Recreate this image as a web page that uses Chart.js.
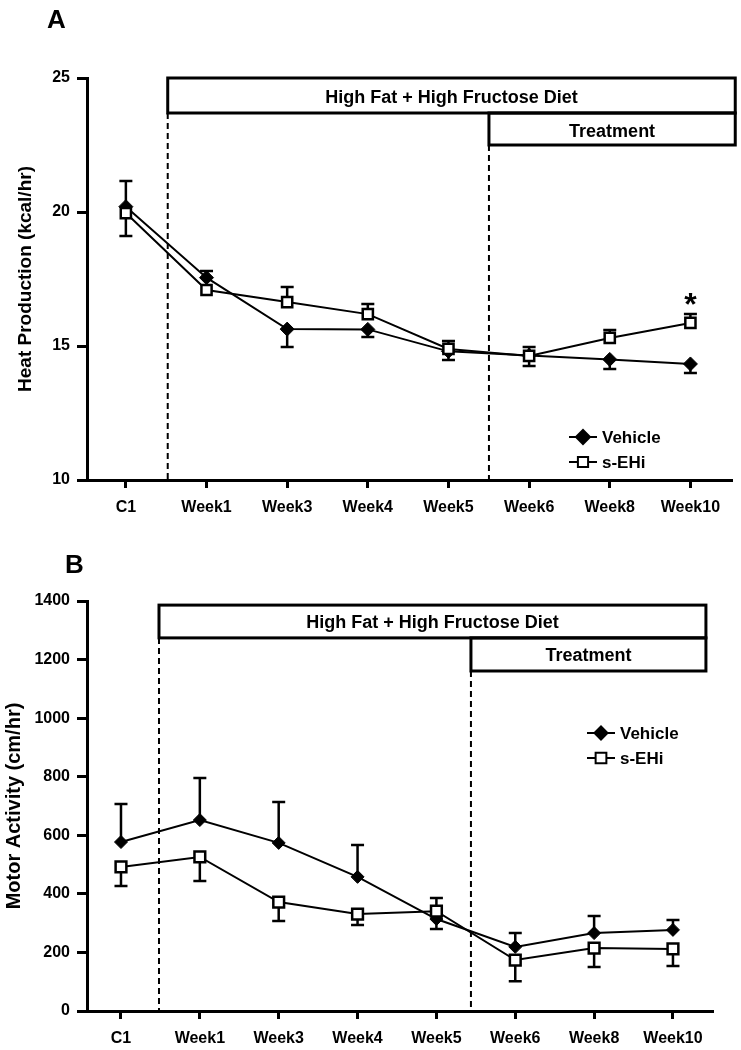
<!DOCTYPE html>
<html>
<head>
<meta charset="utf-8">
<script src="https://cdn.jsdelivr.net/npm/chart.js@4.4.1/dist/chart.umd.min.js"></script>
<style>
  body { margin: 0; background: #fff; width: 741px; height: 1050px; overflow: hidden; }
  canvas { position: absolute; left: 0; }
  #chartA { top: 0; }
  #chartB { top: 530px; }
</style>
</head>
<body>
<canvas id="chartA" width="741" height="530"></canvas>
<canvas id="chartB" width="741" height="520"></canvas>
<script>
const timepoints = ['C1', 'Week1', 'Week3', 'Week4', 'Week5', 'Week6', 'Week8', 'Week10'];

// panel A - heat production (kcal/hr)
const heatVehicle   = [20.2, 17.55, 15.63, 15.62, 14.8, 14.65, 14.5, 14.33];
const heatVehicleHi = [21.16, 17.8, null, null, null, null, null, null];
const heatVehicleLo = [null, null, 14.96, 15.34, 14.48, 14.25, 14.14, 13.99];
const heatSEHi      = [19.96, 17.09, 16.64, 16.19, 14.89, 14.63, 15.3, 15.86];
const heatSEHiHi    = [null, null, 17.2, 16.57, 15.19, 14.96, 15.6, 16.19];
const heatSEHiLo    = [19.1, null, null, null, null, null, null, null];
const heatTicks     = [10, 15, 20, 25];

// panel B - motor activity (cm/hr)
const motorVehicle   = [577, 652, 574, 458, 314, 219, 266, 277];
const motorVehicleHi = [707, 796, 714, 567, null, 266, 324, 311];
const motorVehicleLo = [null, null, null, null, 280, null, null, null];
const motorSEHi      = [492, 526, 372, 331, 341, 174, 215, 212];
const motorSEHiHi    = [null, null, null, null, 386, null, null, null];
const motorSEHiLo    = [427, 444, 307, 294, null, 102, 150, 154];
const motorTicks     = [0, 200, 400, 600, 800, 1000, 1200, 1400];

const FONT = '"Liberation Sans", Arial, sans-serif';
Chart.defaults.font.family = FONT;
Chart.defaults.color = '#000';

const errorBars = {
  id: 'errorBars',
  beforeDatasetsDraw(chart) {
    const ctx = chart.ctx, ys = chart.scales.y;
    ctx.save();
    ctx.strokeStyle = '#000';
    ctx.lineWidth = 2.5;
    chart.data.datasets.forEach((ds, di) => {
      const meta = chart.getDatasetMeta(di);
      meta.data.forEach((pt, i) => {
        [ds.errHi[i], ds.errLo[i]].forEach(v => {
          if (v == null) return;
          const py = ys.getPixelForValue(v);
          ctx.beginPath();
          ctx.moveTo(pt.x, pt.y);
          ctx.lineTo(pt.x, py);
          ctx.moveTo(pt.x - 6.5, py);
          ctx.lineTo(pt.x + 6.5, py);
          ctx.stroke();
        });
      });
    });
    ctx.restore();
  }
};

const panelDeco = {
  id: 'panelDeco',
  beforeDatasetsDraw(chart, args, o) {
    const ctx = chart.ctx, xs = chart.scales.x, ys = chart.scales.y;
    ctx.save();
    ctx.strokeStyle = '#000';
    ctx.lineWidth = 2;
    ctx.setLineDash([6, 4]);
    o.dashes.forEach(d => {
      const px = xs.getPixelForValue(d.x);
      ctx.beginPath();
      ctx.moveTo(px, ys.getPixelForValue(d.from));
      ctx.lineTo(px, chart.chartArea.bottom);
      ctx.stroke();
    });
    ctx.restore();
  },
  afterDraw(chart, args, o) {
    const ctx = chart.ctx, xs = chart.scales.x, ys = chart.scales.y;
    ctx.save();
    ctx.fillStyle = '#000';
    ctx.strokeStyle = '#000';
    // panel letter
    ctx.font = 'bold 26px ' + FONT;
    ctx.textAlign = 'left';
    ctx.textBaseline = 'alphabetic';
    ctx.fillText(o.letter, o.letterX, o.letterY);
    // diet / treatment boxes
    ctx.lineWidth = 3;
    ctx.font = 'bold 18px ' + FONT;
    ctx.textAlign = 'center';
    ctx.textBaseline = 'middle';
    o.boxes.forEach(b => {
      const l = xs.getPixelForValue(b.x0), r = xs.getPixelForValue(b.x1);
      const t = ys.getPixelForValue(b.y0), bt = ys.getPixelForValue(b.y1);
      ctx.strokeRect(l, t, r - l, bt - t);
      ctx.fillText(b.text, (l + r) / 2, (t + bt) / 2 + o.textDy);
    });
    // legend
    ctx.font = 'bold 17px ' + FONT;
    ctx.textAlign = 'left';
    chart.data.datasets.slice().reverse().forEach((ds, k) => {
      const ly = o.legendY + k * 25;
      ctx.lineWidth = 2;
      ctx.beginPath();
      ctx.moveTo(o.legendX, ly);
      ctx.lineTo(o.legendX + 28, ly);
      ctx.stroke();
      ctx.fillStyle = ds.pointBackgroundColor;
      Chart.helpers.drawPoint(ctx, {
        pointStyle: ds.pointStyle, radius: ds.pointRadius,
        borderWidth: ds.pointBorderWidth, rotation: 0
      }, o.legendX + 14, ly);
      ctx.fillStyle = '#000';
      ctx.fillText(ds.label, o.legendX + 33, ly + 1);
    });
    // significance mark
    if (o.star) {
      ctx.font = 'bold 32px ' + FONT;
      ctx.textAlign = 'center';
      ctx.textBaseline = 'alphabetic';
      ctx.fillText('*', xs.getPixelForValue(o.star.x), ys.getPixelForValue(o.star.y) + 1);
    }
    ctx.restore();
  }
};

function makeChart(id, cfg) {
  return new Chart(document.getElementById(id), {
    type: 'line',
    data: {
      datasets: [
        {
          label: 's-EHi', order: 0,
          data: cfg.sehi.map((v, i) => ({ x: i, y: v })),
          errHi: cfg.sehiHi, errLo: cfg.sehiLo,
          borderColor: '#000', borderWidth: 2,
          pointStyle: 'rect', pointRadius: cfg.sqR, pointBorderWidth: 2.5,
          pointBackgroundColor: '#fff', pointBorderColor: '#000'
        },
        {
          label: 'Vehicle', order: 1,
          data: cfg.vehicle.map((v, i) => ({ x: i, y: v })),
          errHi: cfg.vehicleHi, errLo: cfg.vehicleLo,
          borderColor: '#000', borderWidth: 2,
          pointStyle: 'rectRot', pointRadius: cfg.diaR, pointBorderWidth: 1,
          pointBackgroundColor: '#000', pointBorderColor: '#000'
        }
      ]
    },
    options: {
      responsive: false,
      animation: false,
      layout: { padding: { top: cfg.top, right: cfg.right, bottom: 0, left: 0 } },
      plugins: {
        legend: { display: false },
        tooltip: { enabled: false },
        panelDeco: cfg.deco
      },
      scales: {
        x: {
          type: 'linear', min: cfg.xmin, max: cfg.xmax,
          afterFit: s => { s.height = cfg.xh; },
          afterBuildTicks: s => { s.ticks = timepoints.map((t, i) => ({ value: i })); },
          ticks: {
            autoSkip: false, maxRotation: 0, padding: 10,
            font: { size: 16, weight: 'bold' },
            callback: v => timepoints[v]
          },
          grid: { drawOnChartArea: false, drawTicks: true, tickLength: 8, color: '#000', lineWidth: 3 },
          border: { display: true, color: '#000', width: 3 }
        },
        y: {
          min: cfg.ticks[0], max: cfg.ticks[cfg.ticks.length - 1],
          afterFit: s => { s.width = 87; },
          afterBuildTicks: s => { s.ticks = cfg.ticks.map(v => ({ value: v })); },
          ticks: { padding: 7, font: { size: 16, weight: 'bold' }, callback: v => String(v) },
          grid: { drawOnChartArea: false, drawTicks: true, tickLength: 10, color: '#000', lineWidth: 3 },
          border: { display: true, color: '#000', width: 3 },
          title: {
            display: true, text: cfg.title,
            font: { size: cfg.titleSize, weight: 'bold' },
            padding: { top: cfg.titlePad, bottom: 0 }
          }
        }
      }
    },
    plugins: [errorBars, panelDeco]
  });
}

makeChart('chartA', {
  vehicle: heatVehicle, vehicleHi: heatVehicleHi, vehicleLo: heatVehicleLo,
  sehi: heatSEHi, sehiHi: heatSEHiHi, sehiLo: heatSEHiLo,
  ticks: heatTicks, title: 'Heat Production (kcal/hr)', titleSize: 19, titlePad: 14,
  top: 78, right: 8, xh: 50, xmin: -0.482, xmax: 7.507, sqR: 7.2, diaR: 7,
  deco: {
    letter: 'A', letterX: 47, letterY: 28, textDy: 3,
    boxes: [
      { x0: 0.519, x1: 7.556, y0: 25, y1: 23.694, text: 'High Fat + High Fructose Diet' },
      { x0: 4.502, x1: 7.556, y0: 23.694, y1: 22.5, text: 'Treatment' }
    ],
    dashes: [{ x: 0.519, from: 23.694 }, { x: 4.502, from: 22.5 }],
    legendX: 569, legendY: 437,
    star: { x: 7, y: 16.19 }
  }
});

makeChart('chartB', {
  vehicle: motorVehicle, vehicleHi: motorVehicleHi, vehicleLo: motorVehicleLo,
  sehi: motorSEHi, sehiHi: motorSEHiHi, sehiLo: motorSEHiLo,
  ticks: motorTicks, title: 'Motor Activity (cm/hr)', titleSize: 20, titlePad: 2,
  top: 71, right: 29, xh: 39, xmin: -0.431, xmax: 7.495, sqR: 7.6, diaR: 6.5,
  deco: {
    letter: 'B', letterX: 65, letterY: 43, textDy: 1.5,
    boxes: [
      { x0: 0.482, x1: 7.418, y0: 1386, y1: 1274, text: 'High Fat + High Fructose Diet' },
      { x0: 4.438, x1: 7.418, y0: 1274, y1: 1161, text: 'Treatment' }
    ],
    dashes: [{ x: 0.482, from: 1274 }, { x: 4.438, from: 1161 }],
    legendX: 587, legendY: 203,
    star: null
  }
});
</script>
</body>
</html>
